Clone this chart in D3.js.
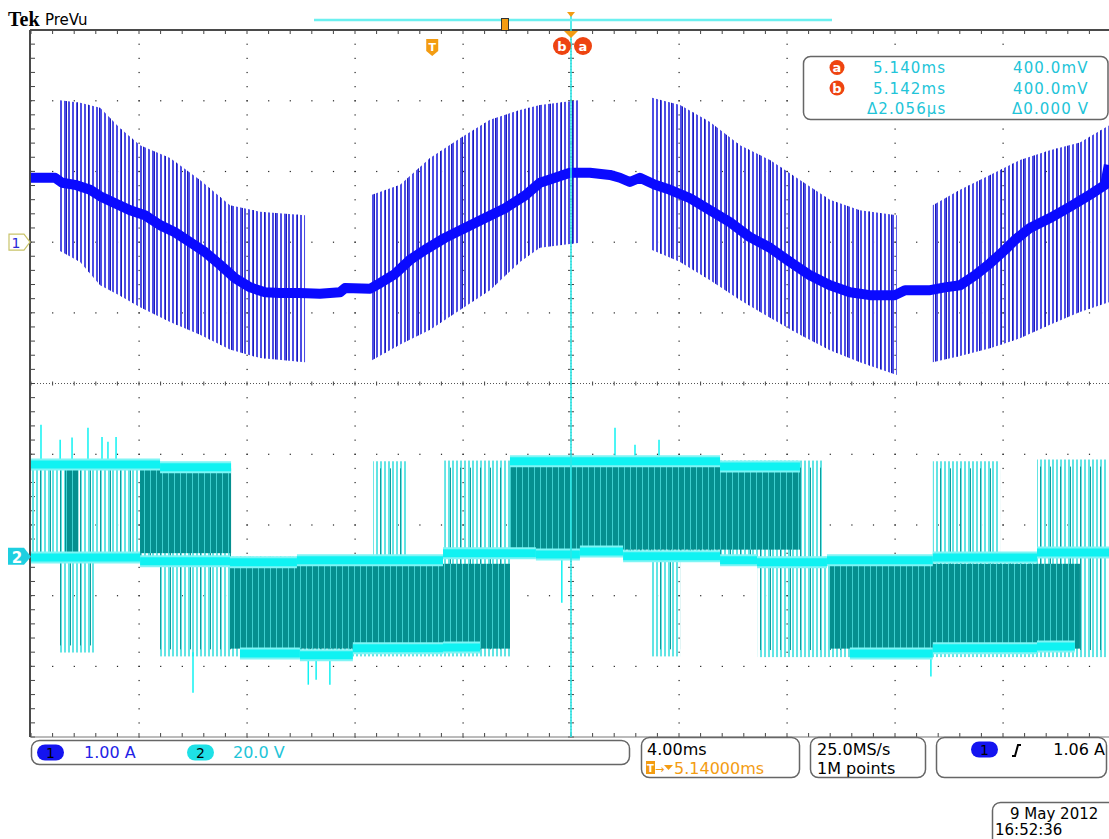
<!DOCTYPE html>
<html><head><meta charset="utf-8">
<script src="https://cdn.jsdelivr.net/npm/d3@7"></script>
<style>
html,body{margin:0;padding:0;background:#fff;}
svg{display:block;font-family:"DejaVu Sans",sans-serif;}
</style></head><body>
<svg id="scope" width="1109" height="839"></svg>
<script>
// ---- acquisition settings ----
const horizDelay = 5.14;   // ms, time at screen centre (relative to trigger)
const timePerDiv = 4;      // ms/div
const ch1PerDiv = 1.0;     // A/div
const ch1Ground = -2;      // A at screen centre
const ch2PerDiv = 20;      // V/div
const ch2Centre = 49;      // V at screen centre
const cursorA = 5.140, cursorB = 5.142; // ms

// ---- channel 1: current, mean trace [ms, A] ----
const ch1Mean = [
  [-14.86,0.91],[-13.97,0.91],[-13.71,0.84],[-13.23,0.81],[-12.67,0.74],[-12.30,0.65],
  [-11.75,0.55],[-11.19,0.45],[-10.64,0.38],[-10.08,0.24],[-9.53,0.14],[-8.97,0.00],
  [-8.42,-0.14],[-7.86,-0.32],[-7.30,-0.51],[-6.75,-0.64],[-6.19,-0.71],[-5.64,-0.72],
  [-4.90,-0.72],[-4.16,-0.73],[-3.42,-0.71],[-3.23,-0.65],[-2.30,-0.66],[-1.93,-0.58],
  [-1.38,-0.45],[-0.82,-0.25],[-0.27,-0.11],[0.47,0.06],[1.21,0.20],[1.96,0.34],
  [2.70,0.48],[3.44,0.66],[3.99,0.84],[4.55,0.91],[5.10,0.98],[5.84,0.98],[6.58,0.95],
  [6.95,0.91],[7.32,0.85],[7.69,0.91],[8.25,0.81],[8.81,0.74],[9.55,0.62],[10.29,0.45],
  [11.03,0.28],[11.77,0.07],[12.51,-0.08],[13.25,-0.28],[13.99,-0.47],[14.73,-0.61],
  [15.47,-0.71],[16.21,-0.75],[17.14,-0.75],[17.51,-0.68],[18.44,-0.68],[18.99,-0.64],
  [19.55,-0.61],[20.10,-0.47],[20.66,-0.30],[21.21,-0.11],[21.58,0.03],[22.14,0.20],
  [22.88,0.34],[23.62,0.50],[24.36,0.67],[24.92,0.81],[25.06,1.09]
];

// ---- channel 1: switching-spike envelopes [ms, top A, bottom A] ----
const ch1Burst1 = [[-13.86,2.01,-0.11],[-13.04,1.97,-0.28],[-12.30,1.90,-0.61],[-11.56,1.61,-0.76],
  [-10.82,1.37,-0.92],[-9.71,1.19,-1.13],[-8.60,0.88,-1.31],[-7.49,0.52,-1.52],[-6.38,0.43,-1.64],[-4.71,0.38,-1.70]];
const ch1Burst2 = [[-2.23,0.67,-1.67],[-1.19,0.81,-1.45],[-0.08,1.19,-1.24],[1.03,1.47,-0.96],
  [2.14,1.73,-0.68],[3.25,1.87,-0.28],[3.99,1.94,-0.08],[5.47,2.01,-0.01]];
const ch1Burst3 = [[8.14,2.04,-0.11],[9.18,1.94,-0.28],[10.29,1.70,-0.54],[11.40,1.37,-0.82],
  [12.51,1.16,-1.07],[13.62,0.88,-1.31],[14.73,0.60,-1.53],[15.84,0.45,-1.70],[17.21,0.38,-1.88]];
const ch1Burst4 = [[18.54,0.52,-1.70],[19.55,0.74,-1.61],[20.66,0.95,-1.50],[21.77,1.16,-1.36],
  [22.88,1.30,-1.17],[23.99,1.41,-0.99],[25.06,1.65,-0.85]];
const ch1Bursts = [ch1Burst1, ch1Burst2, ch1Burst3, ch1Burst4];

// ---- channel 2: voltage dwell levels [from ms, to ms, V] ----
const ch2High = [[-14.86,-10.08,26.1],[-10.08,-7.45,25.3],[2.88,10.66,27.0],[10.66,13.62,25.5]];
const ch2Mid = [[-14.86,-10.82,-0.2],[-10.82,-7.49,-1.3],[-7.49,-5.01,-1.6],[-5.01,0.40,-1.0],
  [0.40,3.84,1.0],[3.84,5.47,0.6],[5.47,7.07,1.5],[7.07,10.66,0.1],[10.66,12.03,-1.0],
  [12.03,14.62,-1.6],[14.62,18.54,-1.0],[18.54,22.40,-0.2],[22.40,25.14,1.2]];
const ch2Low = [[-7.12,-4.90,-27.4],[-4.90,-2.94,-27.9],[-2.94,0.40,-25.9],[0.40,1.77,-25.7],
  [15.47,18.54,-27.4],[18.54,22.40,-25.9],[22.40,23.80,-25.4]];

// ---- channel 2: PWM pulse trains [from ms, to ms, peak V] ----
const ch2UpPulses = [[-14.86,-7.45,26.5],[-2.19,-0.90,27.0],[0.44,14.47,27.2],[18.54,21.03,27.0],[22.40,24.99,27.5]];
const ch2DownPulses = [[-13.86,-12.49,-27.1],[-10.08,2.88,-28.2],[8.14,9.18,-28.2],[12.06,24.99,-28.4]];
// densely overlapped pulse regions [from ms, to ms, upper V, lower V]
const ch2Dense = [[-13.60,-13.10,25,1],[-10.82,-7.45,25,1],[2.88,13.62,25.5,2],[-7.49,2.88,-2,-26],[14.73,23.99,-2,-26]];
// ringing spikes [ms, start V, tip V]
const ch2Glitches = [[-14.49,26,37.3],[-13.78,26,33.1],[-13.34,26,33.7],[-12.75,26,36.5],[-12.23,26,33.9],
  [-12.01,26,32.5],[-11.71,26,33.9],[6.77,27,36.5],[7.51,27,31.7],[8.40,27,33.1],
  [-8.86,-27,-38.5],[-4.59,-27,-36.2],[-4.30,-27,-34.8],[-3.79,-27,-36.2],[4.80,0,-13.0],[18.47,-27,-33.9]];

// ---- readouts ----
const cursorRows = [["a","5.140ms","400.0mV"],["b","5.142ms","400.0mV"],["","\u03942.056\u00b5s","\u03940.000 V"]];
const statusTime = ["4.00ms","5.14000ms"];
const statusAcq = ["25.0MS/s","1M points"];
const trigLevel = "1.06 A";
const stamp = ["9 May 2012","16:52:36"];

// ---- layout ----
const W = 1109, H = 839;
const scrL = 31, scrT = 30, divW = 108, divH = 70.7;
const nDivX = 10, nDivY = 10;
const scrR = scrL + nDivX * divW, scrB = scrT + nDivY * divH;

const x = d3.scaleLinear().domain([horizDelay - 5*timePerDiv, horizDelay + 5*timePerDiv]).range([scrL, scrR]);
const y1 = d3.scaleLinear().domain([ch1Ground - 5*ch1PerDiv, ch1Ground + 5*ch1PerDiv]).range([scrB, scrT]);
const y2 = d3.scaleLinear().domain([ch2Centre - 5*ch2PerDiv, ch2Centre + 5*ch2PerDiv]).range([scrB, scrT]);

const C1 = "#0a0aff", C1spike = "#4d4de4";
const C2 = "#10f2f2", C2pulse = "#62e4e4", C2dense = "#058f8f";
const ORANGE = "#f39c12", CURS = "#ee4411", RTEXT = "#22c4d8";

const svg = d3.select("#scope");
svg.append("rect").attr("width", W).attr("height", H).attr("fill", "#fff");

const defs = svg.append("defs");
const pat = (id, period, stripe, color, bg) => {
  const p = defs.append("pattern").attr("id", id).attr("patternUnits", "userSpaceOnUse")
    .attr("width", period).attr("height", 20);
  if (bg) p.append("rect").attr("width", period).attr("height", 20).attr("fill", bg);
  p.append("rect").attr("width", stripe).attr("height", 20).attr("fill", color);
};
pat("spk1", 4, 2, C1spike);
pat("spk1b", 11, 1, "#1c1cb8");
pat("pul2", 4, 2, C2pulse);
pat("pul2b", 10, 1, "#119c9c");
pat("dense2", 6, 1, "#3fcfcf", C2dense);
defs.append("clipPath").attr("id", "screen").append("rect")
  .attr("x", scrL).attr("y", scrT).attr("width", W - scrL).attr("height", scrB - scrT);

// ---- graticule ----
const grid = svg.append("g");
const minorX = d3.range(0, nDivX*5 + 1).map(i => scrL + i*divW/5);
const minorY = d3.range(0, nDivY*5 + 1).map(i => scrT + i*divH/5);
const majorX = d3.range(1, nDivX).map(i => scrL + i*divW);
const majorY = d3.range(1, nDivY).map(i => scrT + i*divH);
const cx = scrL + 5*divW, cy = scrT + 5*divH;
majorY.forEach(yy => { if (Math.abs(yy - cy) > 1) minorX.forEach(xx =>
  grid.append("rect").attr("x", xx - 0.5).attr("y", yy - 0.5).attr("width", 1.2).attr("height", 1.2).attr("fill", "#222")); });
majorX.forEach(xx => { if (Math.abs(xx - cx) > 1) minorY.forEach(yy =>
  grid.append("rect").attr("x", xx - 0.5).attr("y", yy - 0.5).attr("width", 1.2).attr("height", 1.2).attr("fill", "#222")); });
// centre cross
grid.append("line").attr("x1", scrL).attr("x2", W).attr("y1", cy).attr("y2", cy)
  .attr("stroke", "#555").attr("stroke-dasharray", "1,2");
grid.append("line").attr("x1", cx).attr("x2", cx).attr("y1", scrT).attr("y2", scrB)
  .attr("stroke", "#555").attr("stroke-dasharray", "1,2");
minorX.forEach(xx => grid.append("line").attr("x1", xx).attr("x2", xx).attr("y1", cy - 2).attr("y2", cy + 2).attr("stroke", "#444"));
minorY.forEach(yy => grid.append("line").attr("x1", cx - 3).attr("x2", cx + 3).attr("y1", yy).attr("y2", yy).attr("stroke", "#444"));
// frame with ticks
minorX.forEach(xx => {
  grid.append("line").attr("x1", xx).attr("x2", xx).attr("y1", scrT).attr("y2", scrT + 4).attr("stroke", "#444");
  grid.append("line").attr("x1", xx).attr("x2", xx).attr("y1", scrB).attr("y2", scrB - 4).attr("stroke", "#444");
});
minorY.forEach(yy => grid.append("line").attr("x1", scrL).attr("x2", scrL + 4).attr("y1", yy).attr("y2", yy).attr("stroke", "#444"));
grid.append("line").attr("x1", scrL - 1).attr("x2", W).attr("y1", scrT).attr("y2", scrT).attr("stroke", "#4a4a4a").attr("stroke-width", 2);
grid.append("line").attr("x1", scrL - 1).attr("x2", W).attr("y1", scrB).attr("y2", scrB).attr("stroke", "#777").attr("stroke-width", 1);
grid.append("line").attr("x1", scrL - 1).attr("x2", scrL - 1).attr("y1", scrT).attr("y2", scrB).attr("stroke", "#4a4a4a").attr("stroke-width", 2);

const plot = svg.append("g").attr("clip-path", "url(#screen)");

// ---- channel 2 ----
const g2 = plot.append("g");
const band = (arr, v0, v1, fill) => g2.selectAll(null).data(arr).enter().append("rect")
  .attr("x", d => x(d[0])).attr("width", d => x(d[1]) - x(d[0]))
  .attr("y", d => y2(v1(d))).attr("height", d => y2(v0(d)) - y2(v1(d))).attr("fill", fill);
band(ch2UpPulses, d => 0, d => d[2], "url(#pul2)");
band(ch2DownPulses, d => d[2], d => 0, "url(#pul2)");
band(ch2UpPulses, d => 0, d => d[2] - 2, "url(#pul2b)");
band(ch2DownPulses, d => d[2] + 2, d => 0, "url(#pul2b)");
band(ch2Dense, d => d[3], d => d[2], "url(#dense2)");
g2.selectAll(null).data(ch2Glitches).enter().append("line")
  .attr("x1", d => x(d[0])).attr("x2", d => x(d[0])).attr("y1", d => y2(d[1])).attr("y2", d => y2(d[2]))
  .attr("stroke", C2).attr("stroke-width", 1.5);
const level = arr => {
  g2.selectAll(null).data(arr).enter().append("line")
    .attr("x1", d => x(d[0])).attr("x2", d => x(d[1])).attr("y1", d => y2(d[2])).attr("y2", d => y2(d[2]))
    .attr("stroke", "#7ff5f5").attr("stroke-width", 12);
  g2.selectAll(null).data(arr).enter().append("line")
    .attr("x1", d => x(d[0])).attr("x2", d => x(d[1])).attr("y1", d => y2(d[2])).attr("y2", d => y2(d[2]))
    .attr("stroke", C2).attr("stroke-width", 8);
};
level(ch2High); level(ch2Mid); level(ch2Low);

// ---- channel 1 ----
const g1 = plot.append("g");
const spikeArea = d3.area().x(d => x(d[0])).y0(d => y1(d[2])).y1(d => y1(d[1]));
g1.selectAll(null).data(ch1Bursts).enter().append("path").attr("d", spikeArea).attr("fill", "url(#spk1)");
g1.selectAll(null).data(ch1Bursts).enter().append("path").attr("d", spikeArea).attr("fill", "url(#spk1b)");
g1.append("path").datum(ch1Mean)
  .attr("d", d3.line().x(d => x(d[0])).y(d => y1(d[1])))
  .attr("fill", "none").attr("stroke", C1).attr("stroke-width", 10).attr("stroke-linejoin", "round");

// ---- cursor ----
svg.append("line").attr("x1", x(cursorA)).attr("x2", x(cursorA)).attr("y1", 14).attr("y2", scrB)
  .attr("stroke", "#2ee6e6").attr("stroke-width", 1.6);

// ---- header ----
svg.append("text").attr("x", 8).attr("y", 26).attr("font-family", "Liberation Serif")
  .attr("font-weight", "bold").attr("font-size", 20).text("Tek");
svg.append("text").attr("x", 45).attr("y", 25).attr("font-size", 15).text("PreVu");
// record view bar
svg.append("line").attr("x1", 314).attr("x2", 832).attr("y1", 20).attr("y2", 20).attr("stroke", "#6cf0f0").attr("stroke-width", 2.5);
svg.append("rect").attr("x", 501.5).attr("y", 18.5).attr("width", 7).attr("height", 12)
  .attr("fill", ORANGE).attr("stroke", "#333").attr("stroke-width", 1);
svg.append("path").attr("d", `M${x(horizDelay)-4},12 h8 l-4,5 z`).attr("fill", ORANGE);
svg.append("path").attr("d", `M${x(horizDelay)-7},31 h14 l-7,7 z`).attr("fill", ORANGE);
// trigger point marker
const tx = x(0);
svg.append("path").attr("d", `M${tx-6},39 h12 v12 l-6,5 l-6,-5 z`).attr("fill", ORANGE);
svg.append("text").attr("x", tx).attr("y", 51).attr("text-anchor", "middle").attr("font-size", 11)
  .attr("font-weight", "bold").attr("fill", "#fff").text("T");
// cursor badges
const badge = (cxp, cyp, letter, r) => {
  svg.append("circle").attr("cx", cxp).attr("cy", cyp).attr("r", r).attr("fill", CURS);
  svg.append("text").attr("x", cxp).attr("y", cyp + 4.5).attr("text-anchor", "middle")
    .attr("font-size", 13).attr("font-weight", "bold").attr("fill", "#fff").text(letter);
};
badge(x(cursorA) - 9, 46, "b", 9);
badge(x(cursorA) + 12, 46, "a", 9);

// ---- cursor readout ----
svg.append("rect").attr("x", 803.5).attr("y", 56.5).attr("width", 304.5).attr("height", 63).attr("rx", 7)
  .attr("fill", "#fff").attr("stroke", "#666").attr("stroke-width", 1.5);
cursorRows.forEach((r, i) => {
  const by = 73 + i*20.5;
  if (r[0]) badge(837, by - 5.5, r[0], 7.5);
  svg.append("text").attr("x", i === 2 ? 867 : 873).attr("y", by).attr("font-size", 15)
    .attr("letter-spacing", 1.1).attr("fill", RTEXT).text(r[1]);
  svg.append("text").attr("x", i === 2 ? 1012 : 1013).attr("y", by).attr("font-size", 15)
    .attr("letter-spacing", 1.1).attr("fill", RTEXT).text(r[2]);
});

// ---- channel markers ----
const m1 = y1(0), m2 = y2(0);
svg.append("path").attr("d", `M9,${m1-8} h15 l6,8 l-6,8 h-15 z`).attr("fill", "#fff").attr("stroke", "#c9c46a").attr("stroke-width", 1.2);
svg.append("text").attr("x", 16).attr("y", m1 + 5.5).attr("text-anchor", "middle").attr("font-size", 14).attr("fill", "#2a2ad8").text("1");
svg.append("path").attr("d", `M8,${m2-9} h16 l7,9 l-7,8 h-16 z`).attr("fill", "#1ecfe0");
svg.append("text").attr("x", 17).attr("y", m2 + 6).attr("text-anchor", "middle").attr("font-size", 15)
  .attr("font-weight", "bold").attr("fill", "#fff").text("2");

// ---- status bar ----
const box = (x0, y0, w, h) => svg.append("rect").attr("x", x0).attr("y", y0).attr("width", w).attr("height", h)
  .attr("rx", 8).attr("fill", "#fff").attr("stroke", "#666").attr("stroke-width", 1.5);
box(31.5, 740.5, 598, 24);
const pill = (px, py, label, fill, fg) => {
  svg.append("rect").attr("x", px).attr("y", py).attr("width", 27).attr("height", 16).attr("rx", 8).attr("fill", fill);
  svg.append("text").attr("x", px + 13.5).attr("y", py + 13).attr("text-anchor", "middle").attr("font-size", 14).attr("fill", fg).text(label);
};
pill(37, 744.5, "1", "#1414f0", "#000");
svg.append("text").attr("x", 84).attr("y", 758).attr("font-size", 16).attr("fill", "#2323e6").text(`${ch1PerDiv.toFixed(2)} A`);
pill(187, 744.5, "2", "#1ee0e6", "#000");
svg.append("text").attr("x", 233).attr("y", 758).attr("font-size", 16).attr("fill", RTEXT).text(`${ch2PerDiv.toFixed(1)} V`);

box(641.5, 737.5, 158, 40);
svg.append("text").attr("x", 647).attr("y", 755).attr("font-size", 16).text(statusTime[0]);
svg.append("rect").attr("x", 646).attr("y", 761).attr("width", 9).attr("height", 13).attr("fill", ORANGE);
svg.append("text").attr("x", 650.5).attr("y", 772).attr("text-anchor", "middle").attr("font-size", 10).attr("font-weight", "bold").attr("fill", "#fff").text("T");
svg.append("text").attr("x", 655).attr("y", 773).attr("font-size", 11).attr("fill", ORANGE).text("\u2192");
svg.append("path").attr("d", "M664,765 h9 l-4.5,5 z").attr("fill", ORANGE);
svg.append("text").attr("x", 674).attr("y", 774).attr("font-size", 16).attr("fill", ORANGE).text(statusTime[1]);

box(810.5, 737.5, 115, 40);
svg.append("text").attr("x", 817).attr("y", 755).attr("font-size", 16).text(statusAcq[0]);
svg.append("text").attr("x", 817).attr("y", 774).attr("font-size", 16).text(statusAcq[1]);

box(936.5, 737.5, 170, 40);
pill(971, 741.5, "1", "#1414f0", "#000");
svg.append("path").attr("d", "M1012,756 h3 l3,-11 h3").attr("fill", "none").attr("stroke", "#000").attr("stroke-width", 2);
svg.append("text").attr("x", 1105).attr("y", 755).attr("text-anchor", "end").attr("font-size", 16).text(trigLevel);

box(992.5, 802.5, 130, 50);
svg.append("text").attr("x", 1010).attr("y", 819).attr("font-size", 15).text(stamp[0]);
svg.append("text").attr("x", 995).attr("y", 835).attr("font-size", 15).text(stamp[1]);
</script>
</body></html>
